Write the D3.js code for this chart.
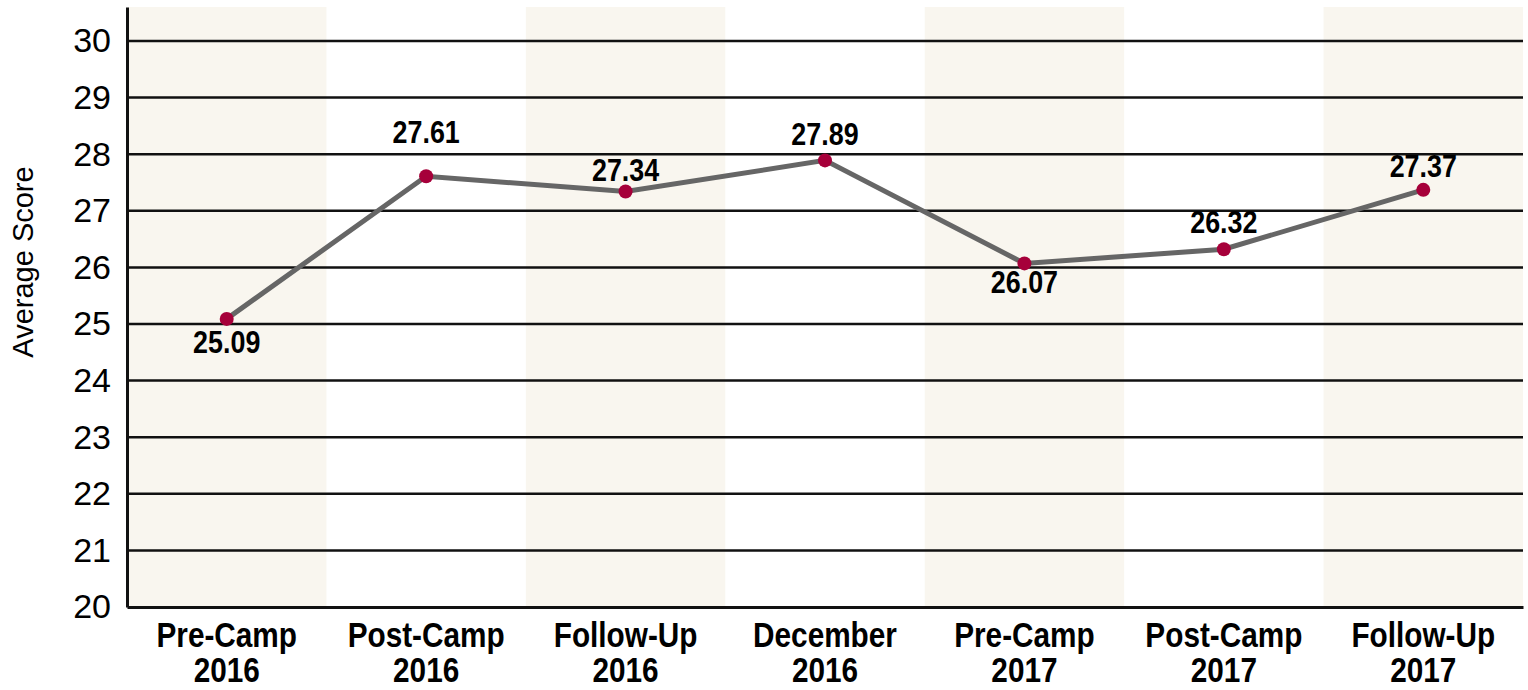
<!DOCTYPE html>
<html>
<head>
<meta charset="utf-8">
<script src="https://cdn.jsdelivr.net/npm/d3@7"></script>
<style>
  body { margin: 0; background: #fff; }
  svg { display: block; }
</style>
</head>
<body>
<div id="chart"></div>
<script>
// categories (two-line labels)
const categories = ['Pre-Camp|2016', 'Post-Camp|2016', 'Follow-Up|2016', 'December|2016',
                    'Pre-Camp|2017', 'Post-Camp|2017', 'Follow-Up|2017'];
const scores = [25.09, 27.61, 27.34, 27.89, 26.07, 26.32, 27.37];
const yTicks = [20, 21, 22, 23, 24, 25, 26, 27, 28, 29, 30];
// where each value label baseline sits relative to its point (px)
const labelDy = [34, -33, -11, -15, 30, -16, -13];

const width = 1528;
const height = 690;
const margin = { top: 7, right: 5, bottom: 83, left: 127 };
const chartWidth = width - margin.left - margin.right;
const chartHeight = height - margin.top - margin.bottom;

// no narrow font installed, so squeeze bold text horizontally
const squeeze = 0.84;
const boldFont = '"Liberation Sans Narrow", "Arial Narrow", "Liberation Sans", Arial, sans-serif';

const svg = d3.select('#chart')
    .append('svg')
    .attr('width', width)
    .attr('height', height);

const chart = svg.append('g')
    .attr('transform', `translate(${margin.left},${margin.top})`);

const xScale = d3.scaleBand()
    .domain(categories)
    .range([0, chartWidth]);

const yScale = d3.scaleLinear()
    .domain([20, 30.6])
    .range([chartHeight, 0]);

// alternating shaded columns
chart.selectAll('.band')
    .data(categories.filter((d, i) => i % 2 === 0))
    .enter()
    .append('rect')
    .attr('x', d => xScale(d))
    .attr('y', 0)
    .attr('width', xScale.bandwidth())
    .attr('height', chartHeight)
    .style('fill', '#f9f6ef');

// grid lines
chart.selectAll('.grid')
    .data(yTicks.slice(1))
    .enter()
    .append('line')
    .attr('x1', 0)
    .attr('x2', chartWidth)
    .attr('y1', d => yScale(d))
    .attr('y2', d => yScale(d))
    .style('stroke', '#111')
    .style('stroke-width', 2.5);

// y axis
const yAxis = d3.axisLeft(yScale)
    .tickValues(yTicks)
    .tickSize(0)
    .tickPadding(16);

const yG = chart.append('g')
    .call(yAxis);
yG.select('.domain').style('stroke', '#111').style('stroke-width', 3);
yG.selectAll('text')
    .style('font-family', '"Liberation Sans", Arial, sans-serif')
    .style('font-size', '34px')
    .attr('fill', '#000');

// x axis
const xAxis = d3.axisBottom(xScale).tickSize(0).tickFormat('');
const xG = chart.append('g')
    .attr('transform', `translate(0,${chartHeight})`)
    .call(xAxis);
xG.select('.domain').style('stroke', '#111').style('stroke-width', 3);

xG.selectAll('.tick')
    .append('text')
    .attr('transform', `scale(0.85,1)`)
    .attr('fill', '#000')
    .style('font-family', boldFont)
    .style('font-weight', 'bold')
    .style('font-size', '35px')
    .style('text-anchor', 'middle')
    .selectAll('tspan')
    .data(d => d.split('|'))
    .enter()
    .append('tspan')
    .attr('x', 0)
    .attr('y', (d, i) => 40 + i * 35)
    .text(d => d);

// y axis title
svg.append('text')
    .attr('transform', `translate(33, 262) rotate(-90)`)
    .style('font-family', '"Liberation Sans", Arial, sans-serif')
    .style('font-size', '29px')
    .style('text-anchor', 'middle')
    .attr('fill', '#000')
    .text('Average Score');

// line
const cx = (d, i) => xScale(categories[i]) + xScale.bandwidth() / 2;
const line = d3.line()
    .x(cx)
    .y(d => yScale(d));

chart.append('path')
    .datum(scores)
    .attr('d', line)
    .style('fill', 'none')
    .style('stroke', '#666')
    .style('stroke-width', 5);

chart.selectAll('.dot')
    .data(scores)
    .enter()
    .append('circle')
    .attr('cx', cx)
    .attr('cy', d => yScale(d))
    .attr('r', 7)
    .style('fill', '#a6003a');

chart.selectAll('.value-label')
    .data(scores)
    .enter()
    .append('text')
    .attr('transform', (d, i) => `translate(${cx(d, i)},${yScale(d) + labelDy[i]}) scale(${squeeze},1)`)
    .style('font-family', boldFont)
    .style('font-weight', 'bold')
    .style('font-size', '32px')
    .style('text-anchor', 'middle')
    .attr('fill', '#000')
    .text(d => d.toFixed(2));
</script>
</body>
</html>
